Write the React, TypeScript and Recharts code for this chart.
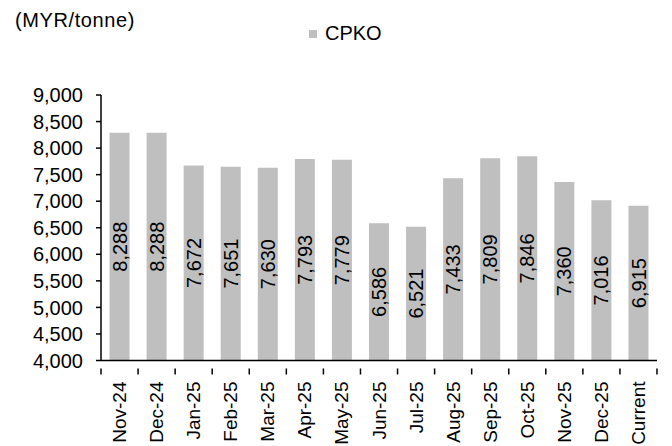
import { BarChart, Bar, XAxis, YAxis, LabelList, Legend } from "recharts"

const months = [
  "Nov-24", "Dec-24", "Jan-25", "Feb-25", "Mar-25", "Apr-25", "May-25", "Jun-25",
  "Jul-25", "Aug-25", "Sep-25", "Oct-25", "Nov-25", "Dec-25", "Current",
]
const cpko = [8288, 8288, 7672, 7651, 7630, 7793, 7779, 6586, 6521, 7433, 7809, 7846, 7360, 7016, 6915]
const yTicks = [4000, 4500, 5000, 5500, 6000, 6500, 7000, 7500, 8000, 8500, 9000]

const FONT = "'Liberation Sans', Arial, sans-serif"
const BAR = "#bfbfbf"

const data = months.map((m, i) => ({ month: m, cpko: cpko[i] }))

const fmt = (v: unknown) => Number(v).toLocaleString("en-US")

// category ticks sit between bars (Excel style), labels rotated
function MonthTick(props: any) {
  const { x, y, payload, index } = props
  const band = 37.05
  const last = index === months.length - 1
  return (
    <g>
      <line x1={x - band / 2} x2={x - band / 2} y1={y} y2={y + 6} stroke="#000" strokeWidth={1.5} />
      {last && <line x1={x + band / 2} x2={x + band / 2} y1={y} y2={y + 6} stroke="#000" strokeWidth={1.5} />}
      <text
        x={x}
        y={y + 13}
        transform={`rotate(-90, ${x}, ${y + 13})`}
        textAnchor="end"
        dominantBaseline="central"
        fontSize={19}
        fontFamily={FONT}
        fill="#000"
      >
        {payload.value}
      </text>
    </g>
  )
}

function LegendBox(props: any) {
  const item = props.payload?.[0]
  if (!item) return null
  return (
    <div style={{ display: "flex", alignItems: "center", fontSize: 20, fontFamily: FONT, color: "#000", height: 23 }}>
      <span style={{ width: 8, height: 8, background: item.color, marginRight: 8, display: "inline-block" }} />
      <span>{item.value}</span>
    </div>
  )
}

export default function App() {
  return (
    <div style={{ position: "relative", width: 672, height: 446, fontFamily: FONT, background: "#fff" }}>
      <style>{`body{margin:0}`}</style>
      <div style={{ position: "absolute", left: 15, top: 9, fontSize: 20, color: "#000", lineHeight: "23px", letterSpacing: 0.6 }}>
        (MYR/tonne)
      </div>
      <BarChart
        width={672}
        height={446}
        data={data}
        margin={{ top: 72, right: 15, bottom: 0, left: 41 }}
        barCategoryGap="23%"
      >
        <Legend
          verticalAlign="top"
          content={<LegendBox />}
          wrapperStyle={{ position: "absolute", top: 22, left: 309, width: 120, height: 23 }}
        />
        <XAxis
          dataKey="month"
          interval={0}
          tickLine={false}
          axisLine={{ stroke: "#000", strokeWidth: 1.5 }}
          tick={<MonthTick />}
          height={85.5}
        />
        <YAxis
          domain={[4000, 9000]}
          ticks={yTicks}
          interval={0}
          width={60}
          tickSize={5}
          tickMargin={13}
          tickFormatter={fmt}
          axisLine={{ stroke: "#000", strokeWidth: 1.5 }}
          tickLine={{ stroke: "#000", strokeWidth: 1.5 }}
          tick={{ fill: "#000", fontSize: 20, fontFamily: FONT }}
          allowDataOverflow
        />
        <Bar dataKey="cpko" name="CPKO" fill={BAR} isAnimationActive={false}>
          <LabelList
            dataKey="cpko"
            position="center"
            angle={-90}
            formatter={fmt}
            fill="#000"
            fontSize={20}
            fontFamily={FONT}
          />
        </Bar>
      </BarChart>
    </div>
  )
}
